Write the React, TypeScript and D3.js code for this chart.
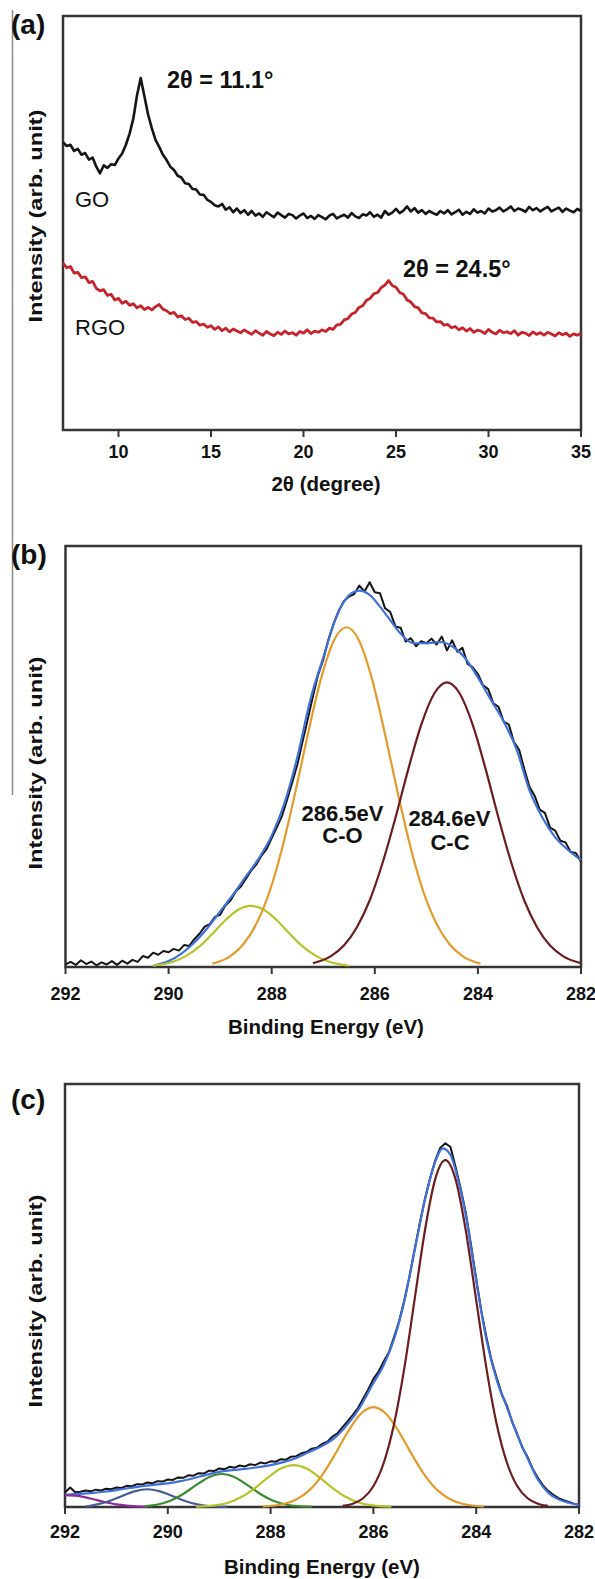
import React from 'react';
import * as d3 from 'd3';

type Pt = [number, number];

// ---------- (a) XRD, 2θ from 7 to 35, one reading every 0.2° ----------
const xrdStart = 7;
const xrdStep = 0.2;
const goIntensity = [
  69.5, 68.6, 68.9, 67.4, 67.9, 66.5, 66.9, 65.3, 65.8, 63.6,
  62.0, 63.9, 63.3, 64.2, 64.0, 65.6, 66.8, 68.9, 71.6, 75.2,
  80.8, 85.0, 80.6, 76.2, 72.9, 70.1, 68.4, 66.5, 65.2, 63.6,
  62.8, 61.4, 61.0, 59.6, 59.4, 58.2, 58.1, 56.9, 56.8, 55.6,
  55.1, 54.3, 54.0, 54.6, 53.2, 53.8, 52.6, 53.5, 52.4, 53.1,
  52.0, 52.9, 51.8, 52.3, 51.5, 52.6, 52.0, 51.4, 52.5, 51.9,
  51.3, 52.2, 51.9, 51.1, 51.8, 52.3, 51.2, 51.7, 51.0, 51.9,
  51.4, 50.9, 51.8, 52.2, 51.1, 51.6, 52.0, 51.3, 52.4, 51.6,
  51.2, 52.1, 51.8, 52.6, 51.5, 52.0, 51.3, 52.9, 52.0, 52.5,
  53.4, 52.4, 53.0, 54.0, 52.8, 53.6, 52.5, 53.1, 52.2, 52.9,
  52.4, 52.0, 52.9, 52.3, 53.1, 52.1, 52.6, 53.2, 52.0, 52.7,
  52.2, 53.3, 52.5, 52.9, 52.3, 53.5, 52.8, 53.1, 53.7, 52.8,
  53.3, 54.0, 52.9, 53.5, 53.2, 52.7, 53.9, 53.1, 53.6, 52.8,
  53.4, 53.9, 52.8, 53.3, 53.7, 52.7, 53.5, 53.0, 52.6, 53.4,
  52.9,
];
const rgoIntensity = [
  40.3, 39.2, 39.5, 37.9, 38.1, 36.8, 37.0, 35.6, 35.9, 34.2,
  33.6, 33.9, 32.5, 32.8, 31.4, 31.8, 30.6, 31.1, 30.1, 30.5,
  29.5, 30.0, 29.1, 29.6, 29.0, 29.8, 30.3, 29.2, 28.8, 28.1,
  28.4, 27.3, 27.6, 26.7, 27.0, 26.0, 26.2, 25.3, 25.6, 24.8,
  25.2, 24.3, 24.9, 24.0, 24.6, 23.7, 24.4, 23.9, 23.5, 24.2,
  23.6, 23.1, 24.0, 23.4, 22.9, 23.8, 23.2, 22.8, 23.6, 23.1,
  23.9, 23.2, 23.5, 22.9, 23.8, 23.4, 24.2, 23.3, 23.9, 23.6,
  24.2, 23.8, 24.6, 24.3, 25.4, 25.5, 26.6, 26.9, 28.0, 28.4,
  29.6, 30.0, 31.3, 31.8, 32.9, 33.2, 34.4, 35.0, 36.1, 34.9,
  34.5, 33.2, 32.8, 31.4, 30.9, 29.8, 29.5, 28.3, 28.1, 27.1,
  27.0, 26.1, 26.2, 25.3, 25.5, 24.7, 25.0, 24.2, 24.7, 23.9,
  24.5, 23.6, 24.1, 23.9, 23.3, 24.3, 23.6, 23.2, 24.1, 23.5,
  23.7, 23.3, 24.0, 22.9, 23.6, 23.4, 22.8, 23.7, 23.1, 23.5,
  22.9, 23.6, 23.2, 22.7, 23.5, 23.0, 23.4, 22.6, 23.2, 22.9,
  23.4,
];
const xrdTicks = [10, 15, 20, 25, 30, 35];

// ---------- XPS C1s, binding energy 292 -> 282, one reading every 0.1 eV ----------
const xpsStart = 292;
const xpsStep = -0.1;
const xpsTicks = [292, 290, 288, 286, 284, 282];

// (b) GO
const goRaw = [
  0.6, 1.2, 0.5, 1.6, 0.7, 1.3, 0.4, 1.1, 0.6, 1.4,
  0.5, 1.5, 0.8, 1.7, 1.2, 2.6, 2.2, 3.4, 2.9, 3.8,
  3.5, 4.3, 3.9, 5.2, 5.0, 6.6, 7.9, 9.6, 10.2, 11.9,
  12.4, 14.6, 15.8, 17.9, 19.1, 21.0, 22.9, 24.3, 26.4, 28.0,
  30.6, 33.2, 35.9, 39.8, 43.9, 48.2, 53.6, 58.9, 64.3, 69.4,
  73.0, 77.8, 81.5, 84.6, 86.9, 88.0, 88.6, 90.6, 89.2, 91.4,
  89.0, 88.8, 85.2, 84.3, 80.9, 80.6, 77.3, 78.1, 76.2, 77.4,
  76.9, 78.0, 76.6, 78.5, 75.2, 77.6, 74.9, 75.8, 72.0, 71.2,
  69.6, 66.9, 66.0, 62.6, 61.8, 58.3, 57.6, 53.4, 51.6, 47.0,
  42.8, 40.7, 37.4, 36.6, 33.1, 32.4, 30.0, 29.6, 27.3, 27.1,
  25.0,
];
const goEnvelope: Pt[] = [
  [290.3, 0.3], [290.0, 1.4], [289.75, 3.2], [289.5, 5.8], [289.25, 9.2], [289.0, 13.2],
  [288.75, 17.2], [288.5, 21.5], [288.25, 25.8], [288.0, 31.2], [287.75, 39.0], [287.5, 50.0],
  [287.25, 63.5], [287.0, 73.5], [286.75, 83.0], [286.5, 88.3], [286.3, 89.4], [286.1, 88.4],
  [285.9, 85.6], [285.7, 82.4], [285.5, 79.2], [285.25, 76.9], [285.0, 76.9], [284.75, 77.2],
  [284.5, 76.2], [284.25, 73.4], [284.0, 68.8], [283.75, 63.5], [283.5, 58.3], [283.25, 51.7],
  [283.0, 42.0], [282.75, 35.5], [282.5, 30.8], [282.25, 27.8], [282.0, 25.4],
];
const goPeakCdO: Pt[] = [
  [290.3, 0.3], [289.9, 1.3], [289.65, 2.7], [289.4, 4.9], [289.15, 7.9], [288.9, 11.1],
  [288.65, 13.6], [288.4, 14.5], [288.15, 13.6], [287.9, 11.1], [287.65, 7.9], [287.4, 4.9],
  [287.15, 2.7], [286.9, 1.3], [286.5, 0.3],
];
const goPeakCO: Pt[] = [
  [289.15, 0.8], [288.8, 2.6], [288.55, 5.4], [288.3, 10.2], [288.05, 17.6], [287.8, 28.1],
  [287.55, 41.1], [287.3, 55.2], [287.05, 68.2], [286.8, 77.4], [286.55, 80.7], [286.3, 77.4],
  [286.05, 68.2], [285.8, 55.2], [285.55, 41.1], [285.3, 28.1], [285.05, 17.6], [284.8, 10.2],
  [284.55, 5.4], [284.3, 2.6], [283.95, 0.8],
];
const goPeakCC: Pt[] = [
  [287.2, 0.9], [286.85, 2.6], [286.6, 5.1], [286.35, 9.4], [286.1, 15.8], [285.85, 24.7],
  [285.6, 35.4], [285.35, 47.0], [285.1, 57.5], [284.85, 64.9], [284.6, 67.6], [284.35, 64.9],
  [284.1, 57.5], [283.85, 47.0], [283.6, 35.4], [283.35, 24.7], [283.1, 15.8], [282.85, 9.4],
  [282.6, 5.1], [282.35, 2.6], [282.0, 0.9],
];

// (c) RGO
const rgoRaw = [
  3.4, 4.6, 3.5, 3.6, 3.9, 3.7, 4.1, 3.9, 4.3, 4.2,
  4.6, 4.5, 5.0, 4.9, 5.4, 5.3, 5.8, 5.6, 6.1, 6.0,
  6.5, 6.4, 7.0, 6.9, 7.5, 7.4, 8.0, 7.9, 8.6, 8.5,
  9.1, 8.9, 9.5, 9.3, 9.8, 9.6, 10.1, 9.9, 10.5, 10.3,
  10.8, 10.7, 11.3, 11.2, 11.9, 12.0, 12.7, 13.0, 13.8, 14.0,
  14.9, 15.4, 16.6, 17.4, 18.9, 20.3, 21.8, 23.4, 25.6, 27.8,
  30.3, 32.0, 34.4, 36.5, 40.1, 43.9, 48.8, 54.4, 60.8, 66.9,
  72.7, 77.6, 81.8, 84.9, 86.0, 85.1, 80.3, 75.2, 69.4, 61.9,
  54.0, 46.3, 40.1, 34.6, 30.5, 26.6, 23.9, 20.1, 17.2, 14.0,
  11.8, 9.0, 6.9, 5.1, 3.8, 2.9, 2.1, 1.6, 1.2, 0.8,
  0.5,
];
const rgoEnvelope: Pt[] = [
  [292.0, 2.9], [291.75, 3.1], [291.5, 3.3], [291.25, 3.6], [291.0, 4.0], [290.75, 4.5],
  [290.5, 4.9], [290.25, 5.3], [290.0, 5.6], [289.75, 6.1], [289.5, 6.8], [289.25, 7.6],
  [289.0, 8.3], [288.75, 8.7], [288.5, 9.0], [288.25, 9.4], [288.0, 9.9], [287.75, 10.6],
  [287.5, 11.6], [287.25, 13.0], [287.0, 14.4], [286.75, 16.4], [286.5, 19.6], [286.25, 23.8],
  [286.0, 29.3], [285.8, 33.5], [285.6, 39.6], [285.4, 48.5], [285.2, 60.5], [285.0, 72.5],
  [284.8, 81.5], [284.65, 84.8], [284.5, 83.2], [284.4, 79.6], [284.2, 68.8], [284.0, 53.5],
  [283.8, 39.5], [283.6, 30.0], [283.4, 23.5], [283.2, 17.0], [283.0, 11.5], [282.8, 6.5],
  [282.6, 3.4], [282.4, 1.8], [282.2, 1.0], [282.0, 0.5],
];
const rgoPeakPurple: Pt[] = [
  [292.0, 2.8], [291.75, 2.62], [291.5, 2.0], [291.25, 1.25], [291.0, 0.63], [290.75, 0.26], [290.4, 0.05],
];
const rgoPeakNavy: Pt[] = [
  [291.6, 0.1], [291.4, 0.57], [291.15, 1.37], [290.9, 2.55], [290.65, 3.7], [290.4, 4.2],
  [290.15, 3.7], [289.9, 2.55], [289.65, 1.37], [289.4, 0.57], [289.15, 0.18], [288.85, 0.03],
];
const rgoPeakGreen: Pt[] = [
  [290.45, 0.19], [290.2, 0.59], [289.95, 1.49], [289.7, 3.08], [289.45, 5.16], [289.2, 7.04],
  [288.95, 7.8], [288.7, 7.04], [288.45, 5.16], [288.2, 3.08], [287.95, 1.49], [287.7, 0.59],
  [287.45, 0.19], [287.2, 0.05],
];
const rgoPeakLime: Pt[] = [
  [289.45, 0.07], [289.05, 0.43], [288.8, 1.13], [288.55, 2.47], [288.3, 4.53], [288.05, 7.0],
  [287.8, 9.08], [287.55, 9.9], [287.3, 9.08], [287.05, 7.0], [286.8, 4.53], [286.55, 2.47],
  [286.3, 1.13], [286.05, 0.43], [285.65, 0.07],
];
const rgoPeakOrange: Pt[] = [
  [288.15, 0.12], [287.75, 0.7], [287.5, 1.78], [287.25, 3.92], [287.0, 7.49], [286.75, 12.37],
  [286.5, 17.7], [286.25, 21.97], [286.0, 23.6], [285.75, 21.97], [285.5, 17.7], [285.25, 12.37],
  [285.0, 7.49], [284.75, 3.92], [284.5, 1.78], [284.25, 0.7], [283.85, 0.12],
];
const rgoPeakBrown: Pt[] = [
  [286.6, 0.26], [286.4, 0.78], [286.2, 2.07], [286.0, 4.9], [285.8, 10.4], [285.6, 19.5],
  [285.4, 32.7], [285.2, 48.9], [285.0, 65.2], [284.8, 77.4], [284.6, 82.0], [284.4, 77.4],
  [284.2, 65.2], [284.0, 48.9], [283.8, 32.7], [283.6, 19.5], [283.4, 10.4], [283.2, 4.9],
  [283.0, 2.07], [282.8, 0.78], [282.6, 0.26],
];

const FONT = '"Liberation Sans", Arial, Helvetica, sans-serif';
const AXIS = '#353535';
const C_BLACK = '#151515';
const C_RED = '#c8222b';
const C_BLUE = '#3f70dc';
const C_ORANGE = '#e39b2c';
const C_BROWN = '#6c1d1f';
const C_LIME = '#b5c428';
const C_GREEN = '#3d8b2f';
const C_NAVY = '#485b97';
const C_PURPLE = '#8d2c98';

const sampled = (start: number, step: number, values: number[]): Pt[] =>
  values.map((v, i) => [start + i * step, v]);

type FrameProps = {
  x: d3.ScaleLinear<number, number>;
  y: d3.ScaleLinear<number, number>;
  ticks: number[];
  tickBaseline: number;
  title: string;
  titleX: number;
  titleBaseline: number;
  tag: string;
  tagBaseline: number;
  yLabelCenter: number;
};

function Frame({ x, y, ticks, tickBaseline, title, titleX, titleBaseline, tag, tagBaseline, yLabelCenter }: FrameProps) {
  const [x0, x1] = x.range();
  const [yb, yt] = y.range();
  return (
    <g fontFamily={FONT} fill="#111">
      <rect x={x0} y={yt} width={x1 - x0} height={yb - yt} fill="none" stroke={AXIS} strokeWidth={2.5} />
      {ticks.map((t) => (
        <g key={t}>
          <line x1={x(t)} x2={x(t)} y1={yb} y2={yb + 7} stroke={AXIS} strokeWidth={2} />
          <text x={x(t)} y={tickBaseline} textAnchor="middle" fontSize={18} fontWeight="bold">
            {t}
          </text>
        </g>
      ))}
      <text x={titleX} y={titleBaseline} textAnchor="middle" fontSize={20.5} fontWeight="bold">
        {title}
      </text>
      <text x={11} y={tagBaseline} fontSize={28} fontWeight="bold">
        {tag}
      </text>
      <text
        transform={`translate(41.5,${yLabelCenter}) rotate(-90)`}
        textAnchor="middle"
        fontSize={19}
        fontWeight="bold"
        textLength={213}
        lengthAdjust="spacingAndGlyphs"
      >
        Intensity (arb. unit)
      </text>
    </g>
  );
}

export default function App() {
  // (a)
  const xA = d3.scaleLinear().domain([7, 35]).range([63, 581]);
  const yA = d3.scaleLinear().domain([0, 100]).range([430, 16]);
  const lineA = d3.line<Pt>().x((d) => xA(d[0])).y((d) => yA(d[1]));

  // (b)
  const xB = d3.scaleLinear().domain([292, 282]).range([65.5, 581]);
  const yB = d3.scaleLinear().domain([0, 100]).range([967, 546]);
  const rawB = d3.line<Pt>().x((d) => xB(d[0])).y((d) => yB(d[1]));
  const fitB = d3.line<Pt>().x((d) => xB(d[0])).y((d) => yB(d[1])).curve(d3.curveMonotoneX);

  // (c)
  const xC = d3.scaleLinear().domain([292, 282]).range([65, 579]);
  const yC = d3.scaleLinear().domain([0, 100]).range([1507, 1084]);
  const rawC = d3.line<Pt>().x((d) => xC(d[0])).y((d) => yC(d[1]));
  const fitC = d3.line<Pt>().x((d) => xC(d[0])).y((d) => yC(d[1])).curve(d3.curveMonotoneX);

  const peaksB: [Pt[], string][] = [
    [goPeakCdO, C_LIME],
    [goPeakCO, C_ORANGE],
    [goPeakCC, C_BROWN],
  ];
  const peaksC: [Pt[], string][] = [
    [rgoPeakPurple, C_PURPLE],
    [rgoPeakNavy, C_NAVY],
    [rgoPeakGreen, C_GREEN],
    [rgoPeakLime, C_LIME],
    [rgoPeakOrange, C_ORANGE],
    [rgoPeakBrown, C_BROWN],
  ];

  return (
    <svg
      width={595}
      height={1579}
      viewBox="0 0 595 1579"
      style={{ position: 'absolute', left: 0, top: 0, display: 'block', background: '#fff' }}
    >
      <rect width={595} height={1579} fill="#fff" />
      <line x1={12.5} x2={12.5} y1={10} y2={795} stroke="#8c8c8c" strokeWidth={1.5} />

      {/* (a) XRD */}
      <Frame
        x={xA}
        y={yA}
        ticks={xrdTicks}
        tickBaseline={458}
        title="2θ (degree)"
        titleX={326}
        titleBaseline={491}
        tag="(a)"
        tagBaseline={34}
        yLabelCenter={216}
      />
      <path d={lineA(sampled(xrdStart, xrdStep, goIntensity)) ?? ''} fill="none" stroke={C_BLACK} strokeWidth={2.6} strokeLinejoin="round" />
      <path d={lineA(sampled(xrdStart, xrdStep, rgoIntensity)) ?? ''} fill="none" stroke={C_RED} strokeWidth={2.8} strokeLinejoin="round" />
      <g fontFamily={FONT} fill="#111">
        <text x={167} y={88} fontSize={23.5} fontWeight="bold">2θ = 11.1°</text>
        <text x={403} y={277} fontSize={23.5} fontWeight="bold">2θ = 24.5°</text>
        <text x={75} y={207} fontSize={22}>GO</text>
        <text x={75} y={335} fontSize={22}>RGO</text>
      </g>

      {/* (b) XPS GO */}
      <Frame
        x={xB}
        y={yB}
        ticks={xpsTicks}
        tickBaseline={1000}
        title="Binding Energy (eV)"
        titleX={326}
        titleBaseline={1034}
        tag="(b)"
        tagBaseline={564}
        yLabelCenter={763}
      />
      <path d={rawB(sampled(xpsStart, xpsStep, goRaw)) ?? ''} fill="none" stroke={C_BLACK} strokeWidth={2} strokeLinejoin="round" />
      <path d={fitB(goEnvelope) ?? ''} fill="none" stroke={C_BLUE} strokeWidth={2.2} />
      {peaksB.map(([pts, c], i) => (
        <path key={i} d={fitB(pts) ?? ''} fill="none" stroke={c} strokeWidth={2.2} />
      ))}
      <g fontFamily={FONT} fill="#111" fontWeight="bold" fontSize={22} textAnchor="middle">
        <text x={342.5} y={821}>286.5eV</text>
        <text x={342.5} y={843}>C-O</text>
        <text x={449.5} y={826}>284.6eV</text>
        <text x={450} y={850}>C-C</text>
      </g>

      {/* (c) XPS RGO */}
      <Frame
        x={xC}
        y={yC}
        ticks={xpsTicks}
        tickBaseline={1538}
        title="Binding Energy (eV)"
        titleX={322}
        titleBaseline={1574}
        tag="(c)"
        tagBaseline={1109}
        yLabelCenter={1301}
      />
      <path d={rawC(sampled(xpsStart, xpsStep, rgoRaw)) ?? ''} fill="none" stroke={C_BLACK} strokeWidth={2} strokeLinejoin="round" />
      <path d={fitC(rgoEnvelope) ?? ''} fill="none" stroke={C_BLUE} strokeWidth={2.2} />
      {peaksC.map(([pts, c], i) => (
        <path key={i} d={fitC(pts) ?? ''} fill="none" stroke={c} strokeWidth={2.2} />
      ))}
    </svg>
  );
}
